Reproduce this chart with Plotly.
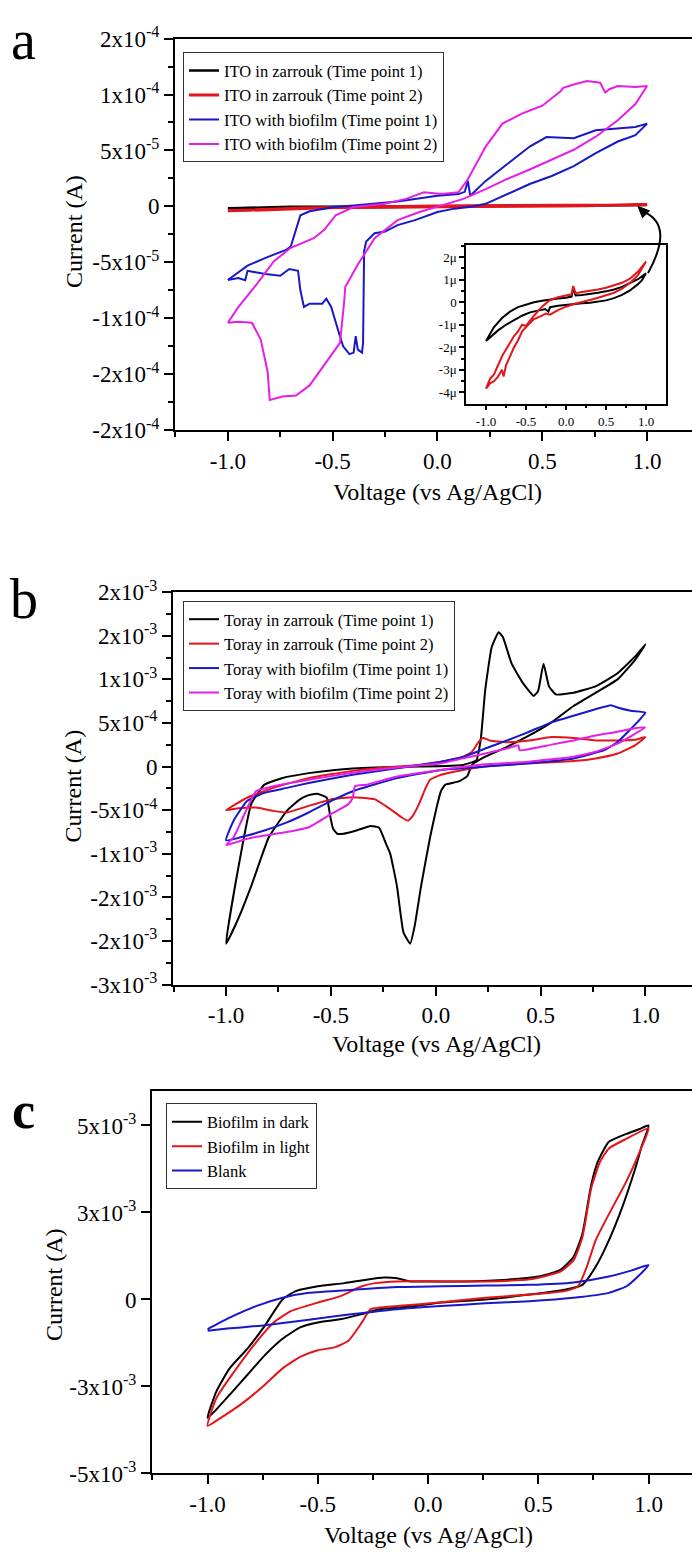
import plotly.graph_objects as go

W, H = 692, 1564
FONT = "Liberation Serif, Times New Roman, serif"


def px(x):
    return x / W


def py(y):
    return 1 - y / H


# ---------------- Panel a : ITO (currents in microamps / 1e-5 A) ----------------
UA = 1e-6
E5 = 1e-5

ito_z1_v = [-1.0, -0.9, -0.8, -0.7, -0.6, -0.5, -0.4, -0.3, -0.2, -0.1, 0.0, 0.07, 0.09, 0.12, 0.2, 0.3, 0.4,
            0.5, 0.6, 0.7, 0.8, 0.9, 1.0, 0.95, 0.9, 0.8, 0.7, 0.6, 0.5, 0.4, 0.3, 0.2, 0.1, 0.0, -0.1, -0.2,
            -0.22, -0.26, -0.35, -0.45, -0.55, -0.65, -0.75, -0.85, -0.95, -1.0]
ito_z1_i = [-1.72, -1.1, -0.7, -0.42, -0.22, -0.1, 0.0, 0.06, 0.12, 0.16, 0.2, 0.25, 0.62, 0.3, 0.32, 0.36, 0.42,
            0.48, 0.56, 0.68, 0.84, 1.02, 1.28, 0.98, 0.8, 0.52, 0.32, 0.18, 0.08, 0.02, -0.02, -0.05, -0.08,
            -0.12, -0.16, -0.22, -0.42, -0.3, -0.36, -0.45, -0.6, -0.8, -1.0, -1.25, -1.55, -1.72]

ito_z2_v = [-1.0, -0.95, -0.9, -0.85, -0.8, -0.75, -0.7, -0.65, -0.6, -0.55, -0.5, -0.45, -0.4, -0.3, -0.2,
            -0.1, 0.0, 0.07, 0.09, 0.12, 0.2, 0.3, 0.4, 0.5, 0.6, 0.7, 0.8, 0.9, 1.0, 0.9, 0.8, 0.7, 0.6, 0.5,
            0.4, 0.3, 0.2, 0.1, 0.0, -0.1, -0.2, -0.25, -0.3, -0.4, -0.5, -0.55, -0.6, -0.65, -0.7, -0.75,
            -0.78, -0.8, -0.85, -0.9, -0.95, -1.0]
ito_z2_i = [-3.83, -3.4, -3.2, -2.8, -2.4, -2.1, -1.8, -1.5, -1.3, -1.0, -1.05, -0.8, -0.6, -0.2, 0.1,
            0.22, 0.3, 0.35, 0.72, 0.4, 0.45, 0.5, 0.56, 0.64, 0.74, 0.86, 1.04, 1.36, 1.8, 1.2, 0.85, 0.6, 0.42,
            0.3, 0.2, 0.1, 0.02, -0.08, -0.2, -0.35, -0.55, -0.5, -0.6, -0.75, -1.1, -1.3, -1.7, -2.0, -2.4,
            -2.8, -3.3, -3.0, -3.3, -3.5, -3.6, -3.83]

ito_b1_v = [-1.0, -0.906, -0.82, -0.72, -0.70, -0.654, -0.61, -0.49, -0.4, -0.19, 0.0, 0.1, 0.13, 0.145, 0.156,
            0.23, 0.33, 0.44, 0.52, 0.65, 0.755, 0.86, 0.944, 1.0, 0.944, 0.86, 0.755, 0.65, 0.545, 0.44, 0.33,
            0.23, 0.166, 0.08, 0.0, -0.107, -0.19, -0.25, -0.3, -0.34, -0.35, -0.355, -0.36, -0.38, -0.39,
            -0.4, -0.42, -0.45, -0.475, -0.507, -0.53, -0.55, -0.61, -0.637, -0.654, -0.665, -0.707, -0.75,
            -0.82, -0.906, -0.917, -0.95, -1.0]
ito_b1_i = [-6.58, -5.3, -4.6, -3.86, -3.6, -0.8, -0.44, -0.06, 0.09, 0.44, 0.96, 1.1, 1.3, 2.28, 0.96,
            2.28, 3.74, 5.35, 6.2, 6.1, 6.8, 6.96, 7.1, 7.4, 6.37, 5.8, 4.77, 3.6, 2.72, 2.0, 1.1,
            0.23, 0.0, -0.2, -0.5, -1.23, -1.67, -2.25, -2.4, -3.13, -4.0, -12.2, -13.07, -12.8, -11.6,
            -13.07, -13.2, -12.5, -11.0, -8.98, -8.25, -8.7, -8.7, -8.98, -7.5, -5.76, -5.6, -6.2,
            -6.05, -5.76, -6.6, -6.4, -6.58]

ito_b2_v = [-1.0, -0.95, -0.885, -0.843, -0.81, -0.8, -0.74, -0.675, -0.61, -0.53, -0.465, -0.445, -0.44,
            -0.38, -0.3, -0.19, -0.086, 0.02, 0.124, 0.23, 0.33, 0.44, 0.545, 0.65, 0.755, 0.86, 0.944, 1.0,
            0.944, 0.86, 0.82, 0.8, 0.776, 0.713, 0.65, 0.6, 0.587, 0.5, 0.44, 0.4, 0.31, 0.23, 0.145, 0.1,
            0.02, -0.065, -0.15, -0.25, -0.4, -0.486, -0.54, -0.59, -0.7, -0.78, -0.86, -0.95, -1.0]
ito_b2_i = [-10.4, -10.3, -10.4, -11.9, -14.8, -17.3, -17.0, -16.9, -16.0, -13.9, -12.2, -8.5, -7.2,
            -5.2, -2.84, -1.23, -0.5, 0.09, 0.67, 1.55, 2.43, 3.3, 4.18, 5.06, 6.23, 7.7, 9.15, 10.76,
            10.67, 10.76, 10.47, 10.18, 11.05, 11.2, 10.9, 10.6, 10.3, 9.0, 8.57, 8.27, 7.4, 5.35, 2.43, 1.26,
            1.11, 1.26, 0.67, 0.23, -0.06, -0.8, -2.1, -2.84, -3.7, -4.9, -6.9, -9.0, -10.4]

# ---------------- Panel b : Toray (currents in 1e-4 A) ----------------
E4 = 1e-4
tor_z1_v = [-1.0, -0.943, -0.88, -0.817, -0.73, -0.606, -0.48, -0.29, -0.08, 0.13, 0.194, 0.215, 0.236, 0.267,
            0.3, 0.32, 0.362, 0.415, 0.467, 0.488, 0.514, 0.54, 0.573, 0.657, 0.762, 0.867, 0.95, 1.0,
            0.95, 0.867, 0.762, 0.657, 0.552, 0.446, 0.34, 0.236, 0.173, 0.15, 0.11, 0.046, 0.025, 0.004,
            -0.027, -0.07, -0.1, -0.122, -0.154, -0.185, -0.217, -0.238, -0.27, -0.31, -0.375, -0.44, -0.47,
            -0.49, -0.505, -0.52, -0.565, -0.606, -0.648, -0.71, -0.796, -0.88, -0.943, -1.0]
tor_z1_i = [-20.3, -11.8, -4.3, -2.07, -1.3, -0.75, -0.38, -0.11, 0.0, 0.19, 0.75, 3.2, 8.8, 13.7,
            15.4, 14.85, 11.8, 9.6, 8.1, 8.65, 11.8, 9.2, 8.27, 8.46, 9.2, 10.7, 12.6, 14.0,
            12.2, 10.0, 8.46, 6.95, 5.07, 3.57, 2.26, 1.13, 0.2, -1.1, -1.7, -2.07, -2.8, -4.7,
            -8.1, -13.7, -18.2, -20.3, -19.0, -13.7, -10.0, -8.8, -7.0, -6.8, -7.3, -7.7, -7.7,
            -7.1, -5.45, -3.57, -3.12, -3.27, -3.76, -5.07, -8.1, -13.7, -17.5, -20.3]

tor_z2_v = [-1.0, -0.9, -0.775, -0.606, -0.396, -0.185, -0.08, 0.025, 0.13, 0.173, 0.204, 0.225, 0.257, 0.34,
            0.446, 0.552, 0.657, 0.762, 0.867, 0.95, 1.0, 0.95, 0.867, 0.762, 0.657, 0.446, 0.236, 0.13, 0.025,
            -0.027, -0.048, -0.08, -0.11, -0.133, -0.164, -0.227, -0.29, -0.354, -0.396, -0.5, -0.606, -0.71,
            -0.775, -0.857, -0.94, -1.0]
tor_z2_i = [-5.0, -3.57, -2.44, -1.32, -0.49, 0.0, 0.19, 0.56, 1.13, 1.7, 2.8, 3.27, 3.0, 2.8,
            3.0, 3.38, 3.27, 3.0, 3.0, 3.08, 3.38, 2.44, 1.5, 0.94, 0.64, 0.38, 0.0, -0.38, -0.94,
            -1.5, -2.44, -4.3, -5.64, -6.2, -5.8, -4.7, -3.76, -3.57, -3.5, -3.76, -4.5, -5.26,
            -5.07, -4.7, -4.77, -5.0]

tor_b1_v = [-1.0, -0.964, -0.9, -0.817, -0.71, -0.606, -0.396, -0.185, 0.025, 0.13, 0.236, 0.34, 0.446, 0.552,
            0.657, 0.762, 0.836, 0.867, 0.93, 1.0, 0.975, 0.93, 0.867, 0.804, 0.657, 0.446, 0.236, 0.025,
            -0.185, -0.396, -0.5, -0.606, -0.71, -0.817, -0.9, -1.0]
tor_b1_i = [-8.46, -6.2, -3.95, -3.0, -2.44, -1.88, -0.94, -0.19, 0.56, 1.1, 2.07, 3.0, 4.0, 5.07,
            5.83, 6.58, 7.03, 6.77, 6.4, 6.2, 5.45, 4.32, 2.82, 1.88, 0.94, 0.38, 0.0, -0.38,
            -1.32, -2.82, -3.95, -5.26, -6.4, -7.33, -7.9, -8.46]

tor_b2_v = [-1.0, -0.964, -0.93, -0.857, -0.775, -0.606, -0.396, -0.185, 0.025, 0.13, 0.236, 0.34, 0.394, 0.4,
            0.552, 0.657, 0.762, 0.867, 0.95, 1.0, 0.95, 0.867, 0.762, 0.657, 0.446, 0.236, 0.025, -0.185,
            -0.33, -0.385, -0.396, -0.417, -0.5, -0.606, -0.71, -0.817, -0.9, -1.0]
tor_b2_i = [-9.0, -8.1, -6.4, -2.82, -2.26, -1.5, -0.7, -0.1, 0.38, 0.94, 1.5, 2.07, 2.44, 1.88,
            2.52, 3.0, 3.57, 4.0, 4.4, 4.5, 3.76, 2.63, 1.7, 1.13, 0.56, 0.26, -0.38, -1.13,
            -2.07, -2.26, -3.57, -4.32, -5.45, -6.95, -7.5, -7.9, -8.27, -9.0]

# ---------------- Panel c : biofilm dark / light / blank (currents in 1e-3 A) ----------------
E3 = 1e-3
dark_v = [-1.0, -0.96, -0.9, -0.82, -0.74, -0.66, -0.6, -0.5, -0.38, -0.28, -0.2, -0.14, -0.08, 0.0, 0.16,
          0.36, 0.5, 0.6, 0.66, 0.7, 0.74, 0.77, 0.82, 0.9, 0.96, 1.0, 0.97, 0.94, 0.88, 0.82, 0.76, 0.7,
          0.62, 0.46, 0.26, 0.06, -0.04, -0.14, -0.22, -0.3, -0.4, -0.5, -0.58, -0.66, -0.74, -0.82, -0.9,
          -0.96, -1.0]
dark_i = [-3.4, -2.64, -1.98, -1.42, -0.75, 0.0, 0.24, 0.38, 0.47, 0.57, 0.63, 0.61, 0.52, 0.52, 0.52,
          0.57, 0.66, 0.85, 1.23, 1.89, 3.3, 3.96, 4.53, 4.76, 4.9, 5.0, 4.43, 3.77, 2.64, 1.7, 0.94, 0.42,
          0.28, 0.14, 0.0, -0.09, -0.17, -0.24, -0.28, -0.42, -0.57, -0.66, -0.8, -1.13, -1.6, -2.17, -2.74,
          -3.16, -3.4]

light_v = [-1.0, -0.96, -0.88, -0.78, -0.7, -0.62, -0.5, -0.4, -0.3, -0.24, -0.14, 0.06, 0.26, 0.46, 0.6,
           0.66, 0.7, 0.74, 0.78, 0.82, 0.9, 1.0, 0.96, 0.9, 0.82, 0.76, 0.72, 0.68, 0.62, 0.46, 0.26, 0.06,
           -0.14, -0.26, -0.3, -0.36, -0.42, -0.5, -0.58, -0.66, -0.74, -0.84, -0.94, -1.0]
light_i = [-3.63, -2.83, -2.08, -1.23, -0.66, -0.33, -0.09, 0.09, 0.38, 0.47, 0.52, 0.52, 0.52, 0.58, 0.8,
           1.13, 1.79, 3.2, 3.96, 4.34, 4.62, 4.92, 4.25, 3.4, 2.45, 1.7, 0.94, 0.38, 0.24, 0.14, 0.05, -0.08,
           -0.19, -0.28, -0.66, -1.18, -1.37, -1.46, -1.65, -1.98, -2.45, -2.97, -3.4, -3.63]

blank_v = [-1.0, -0.9, -0.78, -0.66, -0.54, -0.34, -0.14, 0.06, 0.26, 0.46, 0.66, 0.82, 0.92, 1.0, 0.96, 0.9,
           0.82, 0.66, 0.46, 0.26, 0.06, -0.14, -0.34, -0.54, -0.74, -0.9, -1.0]
blank_i = [-0.85, -0.52, -0.19, 0.05, 0.19, 0.28, 0.36, 0.38, 0.4, 0.42, 0.49, 0.66, 0.83, 0.99, 0.71, 0.38,
           0.19, 0.05, -0.05, -0.11, -0.19, -0.28, -0.42, -0.58, -0.74, -0.83, -0.9]

# ---------------- labels ----------------
legend_a = ["ITO in zarrouk (Time point 1)", "ITO in zarrouk (Time point 2)",
            "ITO with biofilm (Time point 1)", "ITO with biofilm (Time point 2)"]
legend_b = ["Toray in zarrouk (Time point 1)", "Toray in zarrouk (Time point 2)",
            "Toray with biofilm (Time point 1)", "Toray with biofilm (Time point 2)"]
legend_c = ["Biofilm in dark", "Biofilm in light", "Blank"]

x_ticks = [-1.0, -0.5, 0.0, 0.5, 1.0]
x_ticktext = ["-1.0", "-0.5", "0.0", "0.5", "1.0"]
x_minor = [-1.25, -0.75, -0.25, 0.25, 0.75]

ya_vals = [-2e-4, -1.5e-4, -1e-4, -5e-5, 0, 5e-5, 1e-4, 1.5e-4]
ya_text = ["-2x10<sup>-4</sup>", "-2x10<sup>-4</sup>", "-1x10<sup>-4</sup>", "-5x10<sup>-5</sup>", "0",
           "5x10<sup>-5</sup>", "1x10<sup>-4</sup>", "2x10<sup>-4</sup>"]
ya_minor = [-1.75e-4, -1.25e-4, -7.5e-5, -2.5e-5, 2.5e-5, 7.5e-5, 1.25e-4]

yb_vals = [-2.5e-3, -2e-3, -1.5e-3, -1e-3, -5e-4, 0, 5e-4, 1e-3, 1.5e-3, 2e-3]
yb_text = ["-3x10<sup>-3</sup>", "-2x10<sup>-3</sup>", "-2x10<sup>-3</sup>", "-1x10<sup>-3</sup>",
           "-5x10<sup>-4</sup>", "0", "5x10<sup>-4</sup>", "1x10<sup>-3</sup>", "2x10<sup>-3</sup>",
           "2x10<sup>-3</sup>"]
yb_minor = [-2.25e-3, -1.75e-3, -1.25e-3, -7.5e-4, -2.5e-4, 2.5e-4, 7.5e-4, 1.25e-3, 1.75e-3]

yc_vals = [-5e-3, -2.5e-3, 0, 2.5e-3, 5e-3]
yc_text = ["-5x10<sup>-3</sup>", "-3x10<sup>-3</sup>", "0", "3x10<sup>-3</sup>", "5x10<sup>-3</sup>"]

inset_y_vals = [-4e-6, -3e-6, -2e-6, -1e-6, 0, 1e-6, 2e-6]
inset_y_text = ["-4\u03bc", "-3\u03bc", "-2\u03bc", "-1\u03bc", "0", "1\u03bc", "2\u03bc"]
inset_y_minor = [-3.5e-6, -2.5e-6, -1.5e-6, -0.5e-6, 0.5e-6, 1.5e-6, 2.5e-6]

BLACK, RED, BLUE, MAGENTA = "#000000", "#e3151b", "#1818c8", "#e61ee6"

fig = go.Figure()


def sc(vals, k):
    return [v * k for v in vals]


# Panel a main
fig.add_trace(go.Scatter(x=ito_z1_v, y=sc(ito_z1_i, UA), mode="lines", line=dict(color=BLACK, width=2.5),
                         name=legend_a[0], xaxis="x", yaxis="y", legend="legend"))
fig.add_trace(go.Scatter(x=ito_z2_v, y=sc(ito_z2_i, UA), mode="lines", line=dict(color=RED, width=3),
                         name=legend_a[1], xaxis="x", yaxis="y", legend="legend"))
fig.add_trace(go.Scatter(x=ito_b1_v, y=sc(ito_b1_i, E5), mode="lines", line=dict(color=BLUE, width=2),
                         name=legend_a[2], xaxis="x", yaxis="y", legend="legend"))
fig.add_trace(go.Scatter(x=ito_b2_v, y=sc(ito_b2_i, E5), mode="lines", line=dict(color=MAGENTA, width=2),
                         name=legend_a[3], xaxis="x", yaxis="y", legend="legend"))
# Panel a inset
fig.add_trace(go.Scatter(x=ito_z1_v, y=sc(ito_z1_i, UA), mode="lines", line=dict(color=BLACK, width=2),
                         showlegend=False, xaxis="x2", yaxis="y2"))
fig.add_trace(go.Scatter(x=ito_z2_v, y=sc(ito_z2_i, UA), mode="lines", line=dict(color=RED, width=2),
                         showlegend=False, xaxis="x2", yaxis="y2"))

# Panel b
for v, i, col, nm in [(tor_z1_v, tor_z1_i, BLACK, legend_b[0]), (tor_z2_v, tor_z2_i, RED, legend_b[1]),
                      (tor_b1_v, tor_b1_i, BLUE, legend_b[2]), (tor_b2_v, tor_b2_i, MAGENTA, legend_b[3])]:
    fig.add_trace(go.Scatter(x=v, y=sc(i, E4), mode="lines",
                             line=dict(color=col, width=2, shape="spline", smoothing=0.4),
                             name=nm, xaxis="x3", yaxis="y3", legend="legend2"))

# Panel c
for v, i, col, nm in [(dark_v, dark_i, BLACK, legend_c[0]), (light_v, light_i, RED, legend_c[1]),
                      (blank_v, blank_i, BLUE, legend_c[2])]:
    fig.add_trace(go.Scatter(x=v, y=sc(i, E3), mode="lines",
                             line=dict(color=col, width=2, shape="spline", smoothing=0.5),
                             name=nm, xaxis="x4", yaxis="y4", legend="legend3"))

tickfont = dict(family=FONT, size=23, color="black")


def xax(left, right, rng, anchor):
    return dict(domain=[px(left), px(right)], range=rng, anchor=anchor, showline=True, linecolor="black",
                linewidth=2, mirror=True, ticks="outside", ticklen=9, tickwidth=2, tickcolor="black",
                tickvals=x_ticks, ticktext=x_ticktext, tickfont=tickfont, showgrid=False, zeroline=False,
                minor=dict(tickvals=x_minor, ticks="outside", ticklen=5, tickwidth=2, tickcolor="black"))


def yax(top, bottom, rng, anchor, vals, text, minor):
    d = dict(domain=[py(bottom), py(top)], range=rng, anchor=anchor, showline=True, linecolor="black",
             linewidth=2, mirror=False, ticks="outside", ticklen=9, tickwidth=2, tickcolor="black",
             tickvals=vals, ticktext=text, tickfont=tickfont, showgrid=False, zeroline=False)
    if minor:
        d["minor"] = dict(tickvals=minor, ticks="outside", ticklen=5, tickwidth=2, tickcolor="black")
    return d


legend_common = dict(font=dict(family=FONT, size=16.5, color="black"), bgcolor="white",
                     bordercolor="#333333", borderwidth=1, xanchor="left", yanchor="top",
                     tracegroupgap=0, itemwidth=30)

layout = dict(
    width=W, height=H, margin=dict(l=0, r=0, t=0, b=0),
    paper_bgcolor="white", plot_bgcolor="white",
    font=dict(family=FONT, color="black"),
    xaxis=xax(175, 692, [-1.252, 1.214], "y"),
    yaxis=yax(23, 422, [-2e-4, 1.5e-4], "x", ya_vals, ya_text, ya_minor),
    xaxis2=dict(domain=[px(466), px(666)], range=[-1.25, 1.25], anchor="y2", showline=True,
                linecolor="black", linewidth=1.5, mirror=True, ticks="outside", ticklen=5, tickwidth=1.5,
                tickcolor="black", tickvals=x_ticks, ticktext=x_ticktext,
                tickfont=dict(family=FONT, size=13, color="black"), showgrid=False, zeroline=False,
                minor=dict(tickvals=x_minor[1:], ticks="outside", ticklen=3, tickwidth=1.5, tickcolor="black")),
    yaxis2=dict(domain=[py(395), py(233)], range=[-4.5e-6, 2.55e-6], anchor="x2", showline=True,
                linecolor="black", linewidth=1.5, mirror=True, ticks="outside", ticklen=5, tickwidth=1.5,
                tickcolor="black", tickvals=inset_y_vals, ticktext=inset_y_text,
                tickfont=dict(family=FONT, size=13, color="black"), showgrid=False, zeroline=False,
                minor=dict(tickvals=inset_y_minor, ticks="outside", ticklen=3, tickwidth=1.5,
                           tickcolor="black")),
    xaxis3=xax(173, 692, [-1.253, 1.222], "y3"),
    yaxis3=yax(587, 987, [-2.5e-3, 2e-3], "x3", yb_vals, yb_text, yb_minor),
    xaxis4=xax(152, 692, [-1.252, 1.197], "y4"),
    yaxis4=yax(1095, 1485, [-5e-3, 6e-3], "x4", yc_vals, yc_text, None),
    legend=dict(legend_common, x=px(183), y=py(37)),
    legend2=dict(legend_common, x=px(183), y=py(596)),
    legend3=dict(legend_common, x=px(166), y=py(1108)),
    showlegend=True,
)
fig.update_layout(**layout)

annotations = []


def ann(text, x, y, size, angle=0, bold=False):
    annotations.append(dict(text=("<b>%s</b>" % text) if bold else text, x=px(x), y=py(y), xref="paper",
                            yref="paper", showarrow=False, xanchor="center", yanchor="middle",
                            textangle=angle, font=dict(family=FONT, size=size, color="black")))


# panel letters
ann("a", 24, 24, 56)
ann("b", 24, 594, 56)
ann("c", 24, 1115, 52, bold=True)
# axis titles
ann("Current (A)", 74, 220, 24, angle=-90)
ann("Current (A)", 73, 785, 24, angle=-90)
ann("Current (A)", 54, 1293, 24, angle=-90)
ann("Voltage (vs Ag/AgCl)", 437, 485, 24)
ann("Voltage (vs Ag/AgCl)", 436, 1047, 24)
ann("Voltage (vs Ag/AgCl)", 428, 1548, 24)
fig.update_layout(annotations=annotations)

# curved arrow from inset to the main-plot curves
arrow_path = "M %f,%f Q %f,%f %f,%f" % (px(648), py(262), px(674), py(214), px(645), py(200))
head_path = "M %f,%f L %f,%f L %f,%f Z" % (px(638), py(194), px(649.5), py(198.5), px(642.5), py(205.5))
fig.update_layout(shapes=[
    dict(type="path", path=arrow_path, xref="paper", yref="paper", line=dict(color="black", width=2)),
    dict(type="path", path=head_path, xref="paper", yref="paper", line=dict(color="black", width=1),
         fillcolor="black"),
])

fig.write_html("out.html")
